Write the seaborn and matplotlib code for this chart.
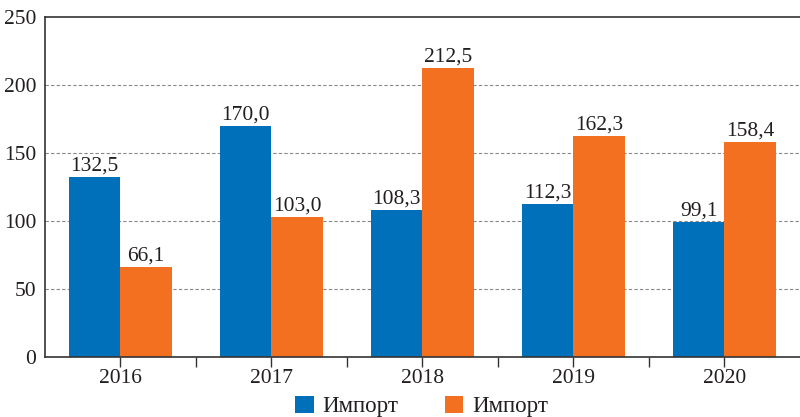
import pandas as pd
import numpy as np
import matplotlib.pyplot as plt
import seaborn as sns
from matplotlib.patches import Patch

years = ['2016', '2017', '2018', '2019', '2020']
series_a = [132.5, 170.0, 108.3, 112.3, 99.1]
series_b = [66.1, 103.0, 212.5, 162.3, 158.4]
series_names = ['Импорт', 'Импорт ']
legend_labels = ['Импорт', 'Импорт']
colors = ['#0070BA', '#F37021']

df = pd.DataFrame({
    'year': years * 2,
    'value': series_a + series_b,
    'series': [series_names[0]] * len(years) + [series_names[1]] * len(years),
})

sns.set_style('white')
plt.rcParams['font.family'] = ['Liberation Serif', 'DejaVu Serif']
text_color = '#231f20'

fig = plt.figure(figsize=(8, 4.17), dpi=100)
ax = fig.add_axes([0.056, 0.144, 0.944, 0.815])

sns.barplot(data=df, x='year', y='value', hue='series', palette=colors,
            width=0.68, saturation=1, linewidth=0, ax=ax, legend=False)

for container in ax.containers:
    labels = [f'{v:.1f}'.replace('.', ',') for v in container.datavalues]
    ax.bar_label(container, labels=labels, padding=1, fontsize=15.5, color=text_color)

ax.set_xlim(-0.5, 4.5)
ax.set_ylim(0, 250)
ax.set_yticks([0, 50, 100, 150, 200, 250])
ax.set_xlabel('')
ax.set_ylabel('')
ax.set_xticks(np.arange(0.5, 4.5, 1), minor=True)
ax.tick_params(axis='x', which='both', direction='out', length=7, width=1,
               color='#333333', labelsize=15.5, labelcolor=text_color, bottom=True, pad=2)
ax.tick_params(axis='y', length=0, labelsize=15.5, labelcolor=text_color, pad=6)

for y in [50, 100, 150, 200]:
    ax.axhline(y, color='#888888', linestyle=(0, (3, 2)), linewidth=0.8, zorder=0)

for side in ['left', 'bottom', 'top']:
    ax.spines[side].set_color('#333333')
    ax.spines[side].set_linewidth(1.2)
ax.spines['right'].set_visible(False)

handles = [Patch(facecolor=c, edgecolor='none') for c in colors]
fig.legend(handles, legend_labels, loc='lower center', bbox_to_anchor=(0.527, -0.05),
           ncol=2, frameon=False, fontsize=16.5, handlelength=0.8, handleheight=0.75,
           columnspacing=2.0, handletextpad=0.4, labelcolor=text_color)

fig.savefig('out.png', dpi=100)
